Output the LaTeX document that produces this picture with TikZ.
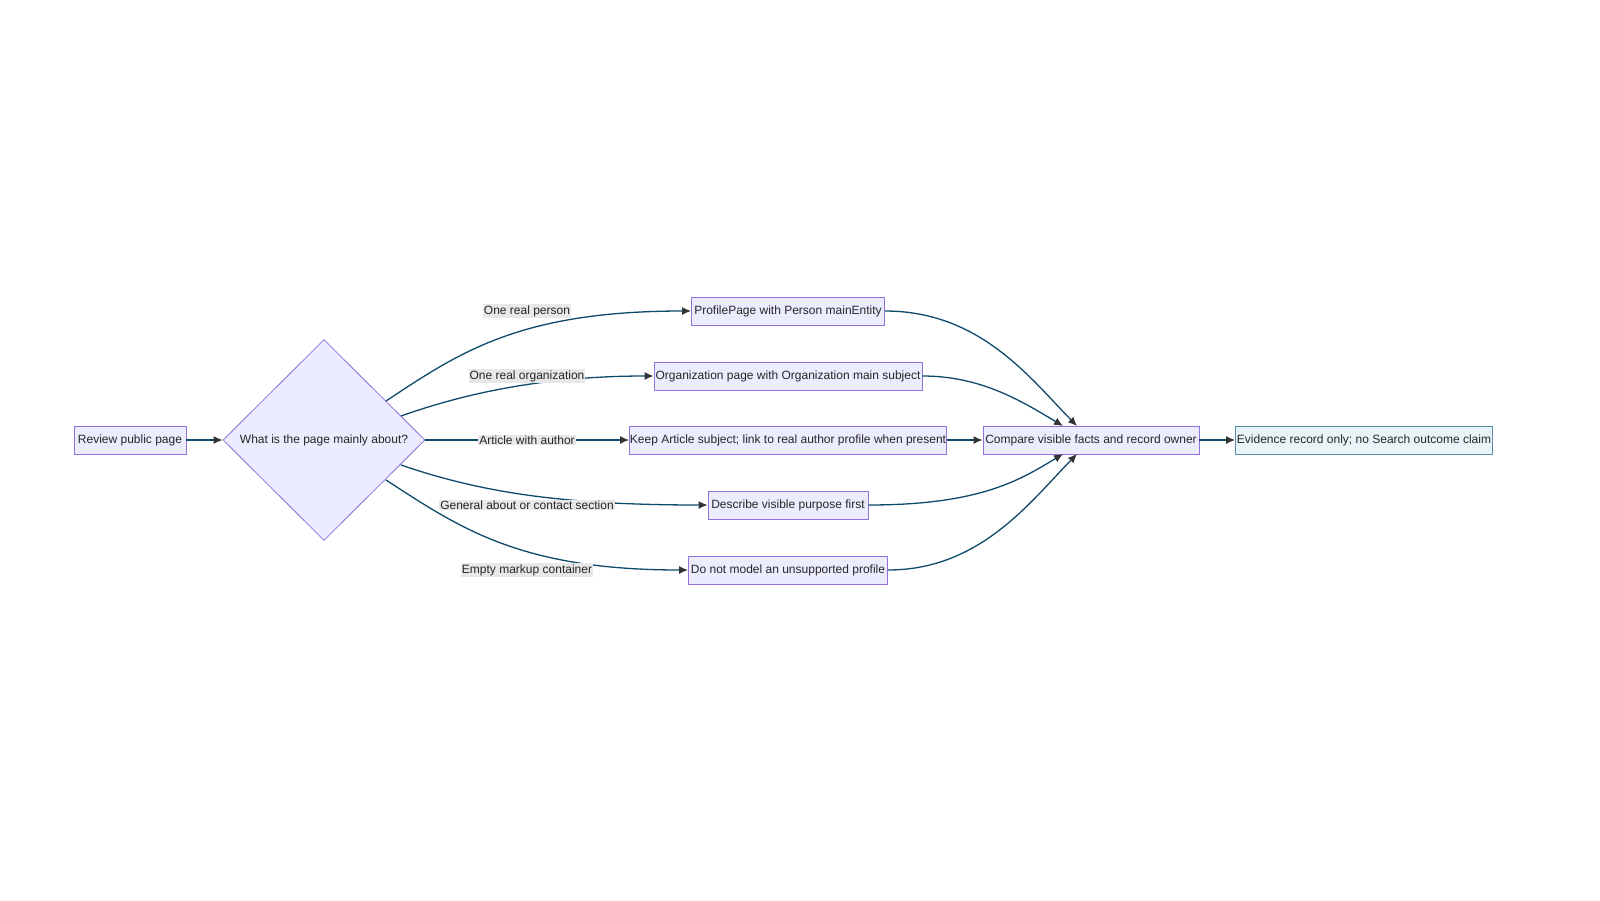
\documentclass[tikz,border=0pt]{standalone}
\usepackage{fontspec}
\setmainfont{Liberation Sans}
\usetikzlibrary{shapes.geometric,arrows.meta}
\definecolor{nfill}{HTML}{ECECFF}
\definecolor{nbord}{HTML}{9370DB}
\definecolor{efill}{HTML}{E8F4F8}
\definecolor{ebord}{HTML}{5B8FA8}
\definecolor{edgec}{HTML}{0E4A6B}
\definecolor{lblbg}{HTML}{E8E8E8}
\begin{document}
\begin{tikzpicture}[x=1pt,y=-1pt,
  box/.style={draw=nbord,fill=nfill,line width=0.8pt,font=\fontsize{12}{14}\selectfont,text=black!85,inner sep=0pt,minimum height=28pt},
  lbl/.style={fill=lblbg,font=\fontsize{12}{14}\selectfont,text=black!85,inner sep=1pt},
  edge/.style={draw=edgec,line width=1.3pt,-{Latex[length=9pt,width=8pt,color=black!80]}}]
\useasboundingbox (0,0) rectangle (1600,900);
\node[box,minimum width=112pt] (r) at (130,440) {Review public page};
\node[draw=nbord,fill=nfill,line width=0.8pt,diamond,minimum width=202pt,minimum height=201pt,inner sep=0pt,font=\fontsize{12}{14}\selectfont,text=black!85] (d) at (324,440) {What is the page mainly about?};
\node[box,minimum width=193pt] (p) at (788,311) {ProfilePage with Person mainEntity};
\node[box,minimum width=268pt] (o) at (788,376) {Organization page with Organization main subject};
\node[box,minimum width=317pt] (k) at (788,440) {Keep Article subject; link to real author profile when present};
\node[box,minimum width=160pt] (ds) at (788,505) {Describe visible purpose first};
\node[box,minimum width=199pt] (dn) at (788,570) {Do not model an unsupported profile};
\node[box,minimum width=216pt] (c) at (1091,440) {Compare visible facts and record owner};
\node[box,draw=ebord,fill=efill,minimum width=257pt] (e) at (1364,440) {Evidence record only; no Search outcome claim};
\coordinate (s1) at (386,401);
\coordinate (s2) at (401,416);
\coordinate (s4) at (401,465);
\coordinate (s5) at (386,480);
\coordinate (ct1) at (1077,426);
\coordinate (ct2) at (1063,426);
\coordinate (cb1) at (1063,454);
\coordinate (cb2) at (1077,454);
\draw[edge] (r) -- (d);
\draw[edge] (s1) .. controls (460,352) and (520,311) .. (p.west);
\draw[edge] (s2) .. controls (480,388) and (560,376) .. (o.west);
\draw[edge] (d.east) -- (k.west);
\draw[edge] (s4) .. controls (480,492) and (560,505) .. (ds.west);
\draw[edge] (s5) .. controls (460,528) and (520,570) .. (dn.west);
\draw[edge] (p.east) .. controls (980,311) and (1030,378) .. (ct1);
\draw[edge] (o.east) .. controls (980,376) and (1020,400) .. (ct2);
\draw[edge] (k) -- (c);
\draw[edge] (ds.east) .. controls (980,505) and (1020,480) .. (cb1);
\draw[edge] (dn.east) .. controls (980,570) and (1030,502) .. (cb2);
\draw[edge] (c) -- (e);
\node[lbl] (l1) at (527,311) {One real person};
\node[lbl] (l2) at (527,376) {One real organization};
\node[lbl] (l3) at (527,440) {Article with author};
\node[lbl] (l4) at (527,505) {General about or contact section};
\node[lbl] (l5) at (527,570) {Empty markup container};
\end{tikzpicture}
\end{document}
